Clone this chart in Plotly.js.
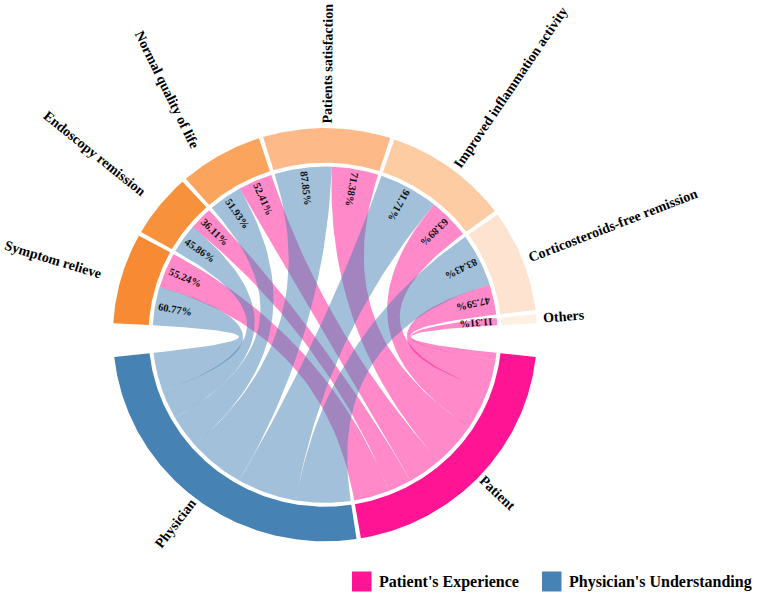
<!DOCTYPE html>
<html>
<head>
<meta charset="utf-8">
<script src="https://cdn.plot.ly/plotly-3.0.1.min.js"></script>
<style>html,body{margin:0;padding:0;background:#fff;}#chart{width:757px;height:597px;}</style>
</head>
<body>
<div id="chart"></div>
<script>
// ---- data ----
const categories = ['Symptom relieve','Endoscopy remission','Normal quality of life','Patients satisfaction','Improved inflammation activity','Corticosteroids-free remission','Others'];
const physicianValues = [60.77, 45.86, 51.93, 87.85, 91.71, 83.43, 0];
const patientValues   = [55.24, 36.11, 52.41, 71.38, 63.89, 47.59, 11.31];
const groups = ['Physician', 'Patient'];
const legendLabels = ["Patient's Experience", "Physician's Understanding"];
const categoryColors = ['#F78A33','#F8913B','#FBA45E','#FDBA88','#FDCCA3','#FEE3D0','#FEF1E3'];
const groupColors = {Physician:'#4682B4', Patient:'#FF1493'};
const ribbonColors = {Physician:'rgba(70,130,180,0.5)', Patient:'rgba(255,20,147,0.5)'};
// small hand-placement tweaks of the category labels (degrees)
const labelThetaShift = [0, 0, -2.5, 0, 0, 0, 0];
const labelAngleShift = [1, 0, 6, 0, -2, 0, 0];

// ---- geometry ----
const R_OUT = 212, R_IN = 176.5, R_CHORD = 172.5;
const GAP_SMALL = 1.2, GAP_BIG = 9.4, START = 273.2;
const sum = arr => arr.reduce((s,v)=>s+v,0);
const physTotal = sum(physicianValues), patTotal = sum(patientValues);
const total = physTotal + patTotal;
const K = (360 - 2*GAP_BIG - 7*GAP_SMALL) / (2*total);

function pt(r, deg){ const t = deg*Math.PI/180; return [r*Math.sin(t), r*Math.cos(t)]; }
function arc(r, a1, a2, n){ const out=[]; n = n || Math.max(4, Math.ceil(Math.abs(a2-a1)*2)); for(let i=0;i<=n;i++){ out.push(pt(r, a1+(a2-a1)*i/n)); } return out; }
function bez(p0, p2, n){ const out=[]; n=n||40; for(let i=1;i<n;i++){ const t=i/n; out.push([(1-t)*(1-t)*p0[0]+t*t*p2[0], (1-t)*(1-t)*p0[1]+t*t*p2[1]]); } return out; }

const traces = [];
function addPoly(pts, color){
  traces.push({type:'scatter', mode:'lines', x:pts.map(p=>p[0]), y:pts.map(p=>p[1]), fill:'toself', fillcolor:color,
    line:{width:0, color:color}, hoverinfo:'skip', showlegend:false});
}
function sector(a1, a2, color){
  const pts = arc(R_OUT, a1, a2).concat(arc(R_IN, a2, a1));
  pts.push(pts[0]);
  addPoly(pts, color);
}

// top sectors
const topSecs = [];
let ang0 = START;
categories.forEach((c,i)=>{
  const s = ang0, e = ang0 + (physicianValues[i] + patientValues[i])*K;
  topSecs.push({s:s, e:e, phys:[s, s+physicianValues[i]*K], pat:[s+physicianValues[i]*K, e]});
  ang0 = e + GAP_SMALL;
});
ang0 = ang0 - GAP_SMALL + GAP_BIG;
const patSec = [ang0, ang0 + patTotal*K];
const physSec = [patSec[1] + GAP_SMALL, patSec[1] + GAP_SMALL + physTotal*K];

const patEnds = {}, physEnds = {};
let bb = patSec[0];
for(let i=categories.length-1;i>=0;i--){ patEnds[i] = [bb, bb+patientValues[i]*K]; bb += patientValues[i]*K; }
bb = physSec[0];
for(let i=categories.length-1;i>=0;i--){ physEnds[i] = [bb, bb+physicianValues[i]*K]; bb += physicianValues[i]*K; }

function ribbon(src, dst, color){
  const A = arc(R_CHORD, src[0], src[1]);
  const B = arc(R_CHORD, dst[0], dst[1]);
  const pts = A.concat(bez(A[A.length-1], B[0])).concat(B).concat(bez(B[B.length-1], A[0]));
  pts.push(A[0]);
  addPoly(pts, color);
}

categories.forEach((c,i)=>{ if(patientValues[i]>0) ribbon(topSecs[i].pat, patEnds[i], ribbonColors.Patient); });
categories.forEach((c,i)=>{ if(physicianValues[i]>0) ribbon(topSecs[i].phys, physEnds[i], ribbonColors.Physician); });

categories.forEach((c,i)=> sector(topSecs[i].s, topSecs[i].e, categoryColors[i]));
sector(patSec[0], patSec[1], groupColors.Patient);
sector(physSec[0], physSec[1], groupColors.Physician);

// ---- labels ----
const cvs = document.createElement('canvas').getContext('2d');
function textW(t, size){ cvs.font = 'bold '+size+'px "Liberation Serif"'; return cvs.measureText(t).width; }
function norm(d){ d = ((d%360)+360)%360; return d>180? d-360 : d; }
const annotations = [];
const LABEL_SIZE = 14;
function radialLabel(text, theta, rEdge, size, angShift){
  const w = textW(text, size);
  const m = ((theta%360)+360)%360;
  const rc = rEdge + w/2;
  const an = (m > 180 ? norm(m+90) : norm(m-90)) + (angShift||0);
  const p = pt(rc, m);
  annotations.push({x:p[0], y:p[1], xref:'x', yref:'y', text:'<b>'+text+'</b>', showarrow:false, textangle:an,
    xanchor:'center', yanchor:'middle', font:{family:'Liberation Serif', size:size, color:'#000'}});
}
categories.forEach((c,i)=>{
  const mid = (topSecs[i].s + topSecs[i].e)/2 + labelThetaShift[i];
  const m = ((mid%360)+360)%360;
  radialLabel(c, mid, m>180 ? 233 : 219, LABEL_SIZE, labelAngleShift[i]);
});
radialLabel(groups[1], (patSec[0]+patSec[1])/2, 216, LABEL_SIZE);
radialLabel(groups[0], (physSec[0]+physSec[1])/2, 216, LABEL_SIZE);

function pctLabel(v, range){
  const mid = (range[0]+range[1])/2;
  const p = pt(152, mid);
  annotations.push({x:p[0], y:p[1], xref:'x', yref:'y', text:'<b>'+v.toFixed(2)+'%</b>', showarrow:false,
    textangle:norm(mid+90), xanchor:'center', yanchor:'middle', font:{family:'Liberation Serif', size:10.5, color:'#111'}});
}
categories.forEach((c,i)=>{
  if(physicianValues[i]>0) pctLabel(physicianValues[i], topSecs[i].phys);
  if(patientValues[i]>0) pctLabel(patientValues[i], topSecs[i].pat);
});

// ---- legend (manual, bottom right) ----
const W = 757, H = 597;
const shapes = [];
const legendItems = [
  {label: legendLabels[0], color: groupColors.Patient, x: 352},
  {label: legendLabels[1], color: groupColors.Physician, x: 542}
];
legendItems.forEach(it=>{
  shapes.push({type:'rect', xref:'paper', yref:'paper', x0:it.x/W, x1:(it.x+19.5)/W, y0:1-591.5/H, y1:1-571.5/H,
    fillcolor:it.color, line:{width:0}});
  annotations.push({xref:'paper', yref:'paper', x:(it.x+24.5)/W, y:1-581.5/H, xanchor:'left', yanchor:'middle', showarrow:false,
    text:'<b>'+it.label+'</b>', font:{family:'Liberation Serif', size:16, color:'#000'}});
});

const CX = 325, CY = 334.7, YS = 1.026;
const layout = {
  width:W, height:H, margin:{l:0,r:0,t:0,b:0}, paper_bgcolor:'#fff', plot_bgcolor:'#fff',
  xaxis:{range:[-CX, W-CX], visible:false, fixedrange:true},
  yaxis:{range:[-(H-CY)*YS, CY*YS], visible:false, fixedrange:true},
  showlegend:false,
  shapes: shapes,
  annotations: annotations
};
Plotly.newPlot('chart', traces, layout, {displayModeBar:false, staticPlot:true});
</script>
</body>
</html>
